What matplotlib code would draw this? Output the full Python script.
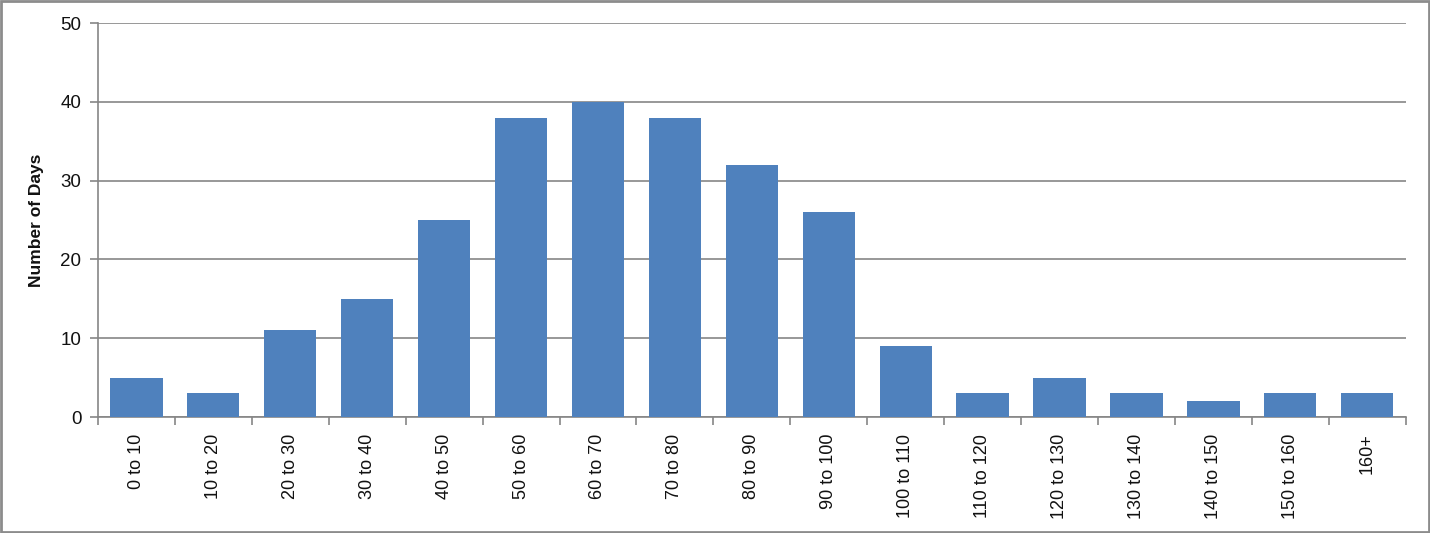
import matplotlib
matplotlib.use("Agg")
import matplotlib.pyplot as plt
import numpy as np

categories = ["0 to 10", "10 to 20", "20 to 30", "30 to 40", "40 to 50", "50 to 60",
              "60 to 70", "70 to 80", "80 to 90", "90 to 100", "100 to 110", "110 to 120",
              "120 to 130", "130 to 140", "140 to 150", "150 to 160", "160+"]
days = [5, 3, 11, 15, 25, 38, 40, 38, 32, 26, 9, 3, 5, 3, 2, 3, 3]
yticks = [0, 10, 20, 30, 40, 50]

plt.rcParams["font.family"] = ["Liberation Sans", "DejaVu Sans"]
GRID = "#868686"
TXT = "#111111"

fig = plt.figure(figsize=(14.3, 5.33), dpi=100)
ax = fig.add_axes([0.0685, 0.2176, 0.9145, 0.7392])
x = np.arange(len(categories))
ax.bar(x, days, width=0.68, color="#4F81BD", zorder=3)

ax.set_xlim(-0.5, len(categories) - 0.5)
ax.set_ylim(0, 50)
ax.set_yticks(yticks)
ax.yaxis.grid(True, color=GRID, lw=1.2, zorder=0)
ax.set_xticks(x)
ax.set_xticklabels(categories, rotation=90, fontsize=13, color=TXT)
ax.tick_params(axis="x", length=0, pad=12)
ax.set_xticks(np.arange(len(categories) + 1) - 0.5, minor=True)
ax.tick_params(axis="x", which="minor", length=6, color=GRID, width=1.2)
ax.tick_params(axis="y", length=6, color=GRID, width=1.2, labelsize=13.5, labelcolor=TXT, pad=6)

for s in ("top", "right"):
    ax.spines[s].set_visible(False)
for s in ("left", "bottom"):
    ax.spines[s].set_color(GRID)
    ax.spines[s].set_linewidth(1.2)

ax.set_ylabel("Number of Days", fontsize=12.5, fontweight="bold", color=TXT, labelpad=12)

fig.patches.append(plt.Rectangle((0.001, 0.002), 0.998, 0.996, transform=fig.transFigure,
                                 fill=False, edgecolor="#8c8c8c", lw=2))
fig.savefig("out.png", dpi=100)
